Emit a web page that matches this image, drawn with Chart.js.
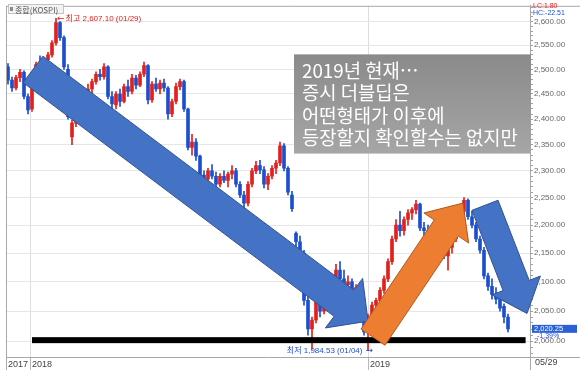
<!DOCTYPE html>
<html>
<head>
<meta charset="utf-8">
<script src="https://cdn.jsdelivr.net/npm/chart.js@4.4.1/dist/chart.umd.min.js"></script>
<style>
  html, body { margin: 0; padding: 0; background: #fff; }
  #wrap { width: 580px; height: 370px; }
</style>
</head>
<body>
<div id="wrap"><canvas id="kospi" width="580" height="370"></canvas></div>
<script>
// KOSPI candles, Dec 2017 - 05/29/2019, one candle per ~3 sessions.
const opens = [2505,2478,2462,2483,2494,2445,2420,2468,2510,2505,2520,2530,2555,2598,2566,2500,2365,2392,2402,2425,
  2445,2460,2475,2490,2485,2505,2445,2428,2450,2435,2465,2455,2482,2468,2490,2508,2438,2470,2460,2472,
  2462,2410,2435,2465,2475,2420,2345,2355,2328,2292,2285,2300,2290,2275,2290,2282,2294,2300,2275,2255,
  2240,2275,2300,2310,2302,2275,2290,2305,2315,2348,2305,2255,2185,2170,2150,2068,2020,2035,2070,2050,
  2068,2085,2100,2120,2105,2095,2100,2080,2090,2055,2015,2040,2060,2068,2085,2105,2135,2175,2200,2190,
  2210,2222,2228,2238,2195,2190,2178,2190,2180,2155,2145,2160,2175,2200,2225,2245,2215,2200,2175,2155,
  2110,2092,2078,2070,2058,2040];
const highs = [2512,2484,2488,2500,2497,2450,2472,2515,2528,2525,2535,2560,2607.10,2600,2570,2510,2398,2410,2430,2450,
  2470,2480,2495,2500,2512,2508,2455,2455,2460,2470,2478,2490,2488,2495,2515,2510,2475,2482,2478,2480,
  2465,2440,2472,2480,2478,2422,2370,2362,2330,2300,2305,2312,2298,2295,2300,2298,2310,2305,2280,2262,
  2280,2305,2318,2320,2308,2295,2310,2320,2355,2352,2308,2262,2188,2180,2155,2075,2040,2075,2080,2075,
  2090,2110,2130,2135,2120,2110,2105,2095,2098,2060,2045,2065,2072,2090,2110,2140,2180,2210,2225,2215,
  2228,2232,2245,2240,2205,2200,2195,2198,2185,2165,2168,2180,2205,2230,2250,2248,2225,2205,2180,2160,
  2115,2105,2090,2072,2062,2045];
const lows = [2470,2455,2458,2475,2440,2410,2415,2465,2500,2498,2508,2525,2550,2560,2500,2400,2350,2385,2395,2420,
  2438,2450,2470,2478,2480,2440,2420,2420,2425,2432,2445,2450,2460,2465,2485,2430,2433,2455,2450,2455,
  2400,2405,2430,2458,2415,2340,2330,2320,2285,2275,2280,2285,2265,2270,2278,2270,2285,2270,2250,2228,
  2235,2270,2295,2295,2268,2265,2285,2295,2310,2300,2255,2225,2160,2150,2060,2010,1987,2030,2040,2045,
  2055,2075,2095,2100,2085,2080,2075,2070,2050,2010,1984.53,2035,2050,2062,2080,2100,2130,2170,2180,2182,
  2200,2210,2220,2190,2180,2170,2172,2175,2150,2140,2120,2150,2170,2195,2220,2210,2195,2170,2150,2105,
  2085,2070,2062,2050,2030,2015];
const closes = [2478,2462,2483,2494,2445,2418,2468,2510,2505,2520,2530,2555,2598,2566,2505,2405,2392,2402,2425,2445,
  2460,2475,2490,2485,2505,2445,2430,2450,2435,2465,2455,2482,2468,2490,2508,2438,2470,2460,2472,2462,
  2410,2435,2465,2475,2420,2345,2355,2328,2292,2285,2300,2290,2275,2290,2282,2294,2300,2275,2255,2240,
  2275,2300,2310,2302,2275,2290,2305,2315,2348,2305,2260,2230,2170,2155,2068,2020,2035,2070,2050,2068,
  2085,2100,2120,2105,2095,2100,2080,2090,2055,2015,2040,2060,2068,2085,2105,2135,2175,2200,2190,2210,
  2222,2228,2238,2195,2190,2178,2190,2180,2155,2145,2160,2175,2200,2225,2245,2215,2200,2175,2155,2110,
  2092,2078,2070,2055,2040,2020.25];

const xTickPos = [-0.5, 5.5, 90];
const xTickLabels = ["2017", "2018", "2019"];
const lastDateLabel = "05/29";
const yMajor = [2000, 2050, 2100, 2150, 2200, 2250, 2300, 2350, 2400, 2450, 2500, 2550, 2600];
const yMinor = [];
for (let v = 1980; v <= 2630; v += 10) yMinor.push(v);

const seriesName = "종합(KOSPI)";
const peak = { i: 12, value: 2607.10, date: "01/29" };
const trough = { i: 90, value: 1984.53, date: "01/04" };
const lastChange = "-1.39%";
const lcText = "LC:1.80";
const hcText = "HC:-22.51";

// annotation shapes, in (candle index, price)
const arrowTails = [[6.25, 2500], [91.25, 2006.5], [119.25, 2236]];
const arrowTips = [[90, 2033], [113.75, 2240], [129.75, 2046]];
const arrowFills = ["#4472c4", "#ed7d31", "#4472c4"];
const arrowLines = ["#2f528f", "#ae5a21", "#2f528f"];
const floorLine = { from: 6, to: 129.4, value: 2001.6 };
const noteBox = { from: 71.5, to: 130.75, top: 2531, bottom: 2333 };
const noteLines = ["2019년 현재…", "증시 더블딥은", "어떤형태가 이후에", "등장할지 확인할수는 없지만"];

const UP = "#e3211c";
const DOWN = "#1f4fd0";
const SANS = '"Liberation Sans", Arial, "Noto Sans CJK KR", sans-serif';
const KR = '"Noto Sans CJK KR", "Noto Sans", sans-serif';
const ARROWS = '"DejaVu Sans", sans-serif';

const candleColor = (ctx) => (closes[ctx.dataIndex] >= opens[ctx.dataIndex] ? UP : DOWN);
const fmt = (v) => v.toLocaleString("en-US", { minimumFractionDigits: 2, maximumFractionDigits: 2 });

function drawArrow(g, tail, tip, shaft, head, headLen, fill, line) {
  const dx = tip[0] - tail[0], dy = tip[1] - tail[1];
  const len = Math.hypot(dx, dy);
  const ux = dx / len, uy = dy / len, nx = -uy, ny = ux;
  const bx = tip[0] - ux * headLen, by = tip[1] - uy * headLen;
  const pts = [
    [tail[0] + nx * shaft / 2, tail[1] + ny * shaft / 2],
    [bx + nx * shaft / 2, by + ny * shaft / 2],
    [bx + nx * head / 2, by + ny * head / 2],
    tip,
    [bx - nx * head / 2, by - ny * head / 2],
    [bx - nx * shaft / 2, by - ny * shaft / 2],
    [tail[0] - nx * shaft / 2, tail[1] - ny * shaft / 2],
  ];
  g.beginPath();
  pts.forEach((p, k) => (k ? g.lineTo(p[0], p[1]) : g.moveTo(p[0], p[1])));
  g.closePath();
  g.fillStyle = fill;
  g.fill();
  g.lineWidth = 1;
  g.strokeStyle = line;
  g.stroke();
}

const overlay = {
  id: "overlay",
  afterDraw(chart) {
    const g = chart.ctx;
    const { x, y } = chart.scales;
    const area = chart.chartArea;
    const px = (i) => x.getPixelForValue(i);
    const py = (v) => y.getPixelForValue(v);
    g.save();

    // frame
    g.strokeStyle = "#a8a8a8";
    g.lineWidth = 1;
    g.beginPath();
    g.moveTo(area.left + 0.5, area.top + 0.5); g.lineTo(580, area.top + 0.5);
    g.moveTo(area.left + 0.5, area.top); g.lineTo(area.left + 0.5, 370);
    g.moveTo(area.right + 0.5, area.bottom); g.lineTo(area.right + 0.5, 370);
    g.moveTo(area.right, area.bottom + 0.5); g.lineTo(580, area.bottom + 0.5);
    g.stroke();

    // floor bar
    g.fillStyle = "#000";
    g.fillRect(px(floorLine.from), py(floorLine.value) - 3, px(floorLine.to) - px(floorLine.from), 6);

    // arrows
    arrowTails.forEach((t, k) => {
      const w = k === 1 ? 29 : k === 0 ? 33 : 28;
      drawArrow(g, [px(t[0]), py(t[1])], [px(arrowTips[k][0]), py(arrowTips[k][1])],
        w, w * 2 - 4, 30, arrowFills[k], arrowLines[k]);
    });

    // note box
    const bx0 = px(noteBox.from), bx1 = px(noteBox.to);
    const by0 = py(noteBox.top), by1 = py(noteBox.bottom);
    const grad = g.createLinearGradient(0, by0, 0, by1);
    grad.addColorStop(0, "#8a8a8a");
    grad.addColorStop(1, "#a6a6a6");
    g.fillStyle = grad;
    g.fillRect(bx0, by0, bx1 - bx0, by1 - by0);
    g.fillStyle = "#fff";
    g.font = `18.8px ${KR}`;
    g.textBaseline = "middle";
    g.textAlign = "left";
    noteLines.forEach((s, k) => g.fillText(s, bx0 + 8, by0 + 16 + k * 22.6));

    // series title
    g.fillStyle = "#f3f3f3";
    g.fillRect(8.5, 4.5, 55, 9);
    g.strokeStyle = "#c4c4c4";
    g.strokeRect(8.5, 4.5, 55, 9);
    g.fillStyle = "#8a8a8a";
    g.fillRect(10, 7, 3, 4);
    g.fillStyle = "#555";
    g.font = `8px ${KR}`;
    g.fillText(seriesName, 15, 9.5);

    // high / low marks
    const hx = px(peak.i) + 1, hy = py(peak.value);
    g.fillStyle = UP;
    g.textAlign = "left";
    g.font = `9px ${ARROWS}`;
    g.fillText("←", hx, hy);
    const aw = g.measureText("←").width;
    g.font = `8px ${SANS}`;
    g.fillText(`최고 ${fmt(peak.value)} (${peak.date})`, hx + aw + 1, hy);

    const tx = px(trough.i) + 5, ty = py(trough.value);
    g.fillStyle = DOWN;
    g.textAlign = "right";
    g.font = `9px ${ARROWS}`;
    g.fillText("→", tx, ty);
    const bw = g.measureText("→").width;
    g.font = `8px ${SANS}`;
    g.fillText(`최저 ${fmt(trough.value)} (${trough.date})`, tx - bw - 3, ty);

    // right-axis extras
    g.textAlign = "left";
    g.font = `7px ${SANS}`;
    g.fillStyle = UP;
    g.fillText(lcText, 533, 6.5);
    g.fillStyle = DOWN;
    g.fillText(hcText, 533, 13);
    const last = closes[closes.length - 1];
    const ly = py(last);
    g.fillStyle = "#2a62d6";
    g.fillRect(532, ly - 4, 45, 8);
    g.fillStyle = "#fff";
    g.font = `7.5px ${SANS}`;
    g.fillText(fmt(last), 534, ly);
    g.fillStyle = DOWN;
    g.font = `7px ${SANS}`;
    g.fillText(lastChange, 537, ly + 7.5);

    g.fillStyle = "#444";
    g.font = `9px ${SANS}`;
    g.fillText(lastDateLabel, 535, 363);
    g.restore();
  },
};

new Chart(document.getElementById("kospi"), {
  type: "bar",
  data: {
    datasets: [
      {
        data: opens.map((o, i) => ({ x: i, y: [lows[i], highs[i]] })),
        backgroundColor: candleColor,
        barThickness: 1,
        grouped: false,
        borderWidth: 0,
      },
      {
        data: opens.map((o, i) => ({ x: i, y: [o, closes[i]] })),
        backgroundColor: candleColor,
        barThickness: 3,
        grouped: false,
        borderWidth: 0,
      },
    ],
  },
  options: {
    responsive: false,
    animation: false,
    devicePixelRatio: 1,
    layout: { padding: { left: 6, top: 3, right: 0, bottom: 0 } },
    plugins: { legend: { display: false }, tooltip: { enabled: false } },
    scales: {
      x: {
        type: "linear",
        min: -0.5,
        max: 130.5,
        offset: false,
        bounds: "data",
        afterBuildTicks: (s) => { s.ticks = xTickPos.map((v) => ({ value: v })); },
        afterFit: (s) => { s.height = 13; },
        ticks: {
          autoSkip: false,
          maxRotation: 0,
          align: "start",
          labelOffset: 2,
          padding: -11,
          color: "#444",
          font: { size: 9, family: SANS },
          callback: (v) => xTickLabels[xTickPos.indexOf(v)] ?? "",
        },
        grid: {
          offset: false,
          color: (ctx) => (ctx.tick && ctx.tick.value > 0 ? "#dedede" : "rgba(0,0,0,0)"),
          tickLength: 13,
          tickColor: "#b8b8b8",
        },
        border: { color: "#a8a8a8" },
      },
      y: {
        type: "logarithmic",
        position: "right",
        min: 1974.1,
        max: 2634,
        bounds: "data",
        beginAtZero: false,
        afterBuildTicks: (s) => { s.ticks = yMinor.map((v) => ({ value: v })); },
        afterFit: (s) => { s.width = 50; },
        ticks: {
          autoSkip: false,
          padding: 1,
          color: "#666",
          font: { size: 8, family: SANS },
          callback: (v) => (yMajor.includes(v) ? fmt(v) : ""),
        },
        grid: {
          color: (ctx) => (ctx.tick && yMajor.includes(ctx.tick.value) ? "#e6e6e6" : "rgba(0,0,0,0)"),
          tickLength: 3,
          tickColor: "#a0a0a0",
        },
        border: { color: "#a8a8a8" },
      },
    },
  },
  plugins: [overlay],
});
</script>
</body>
</html>
